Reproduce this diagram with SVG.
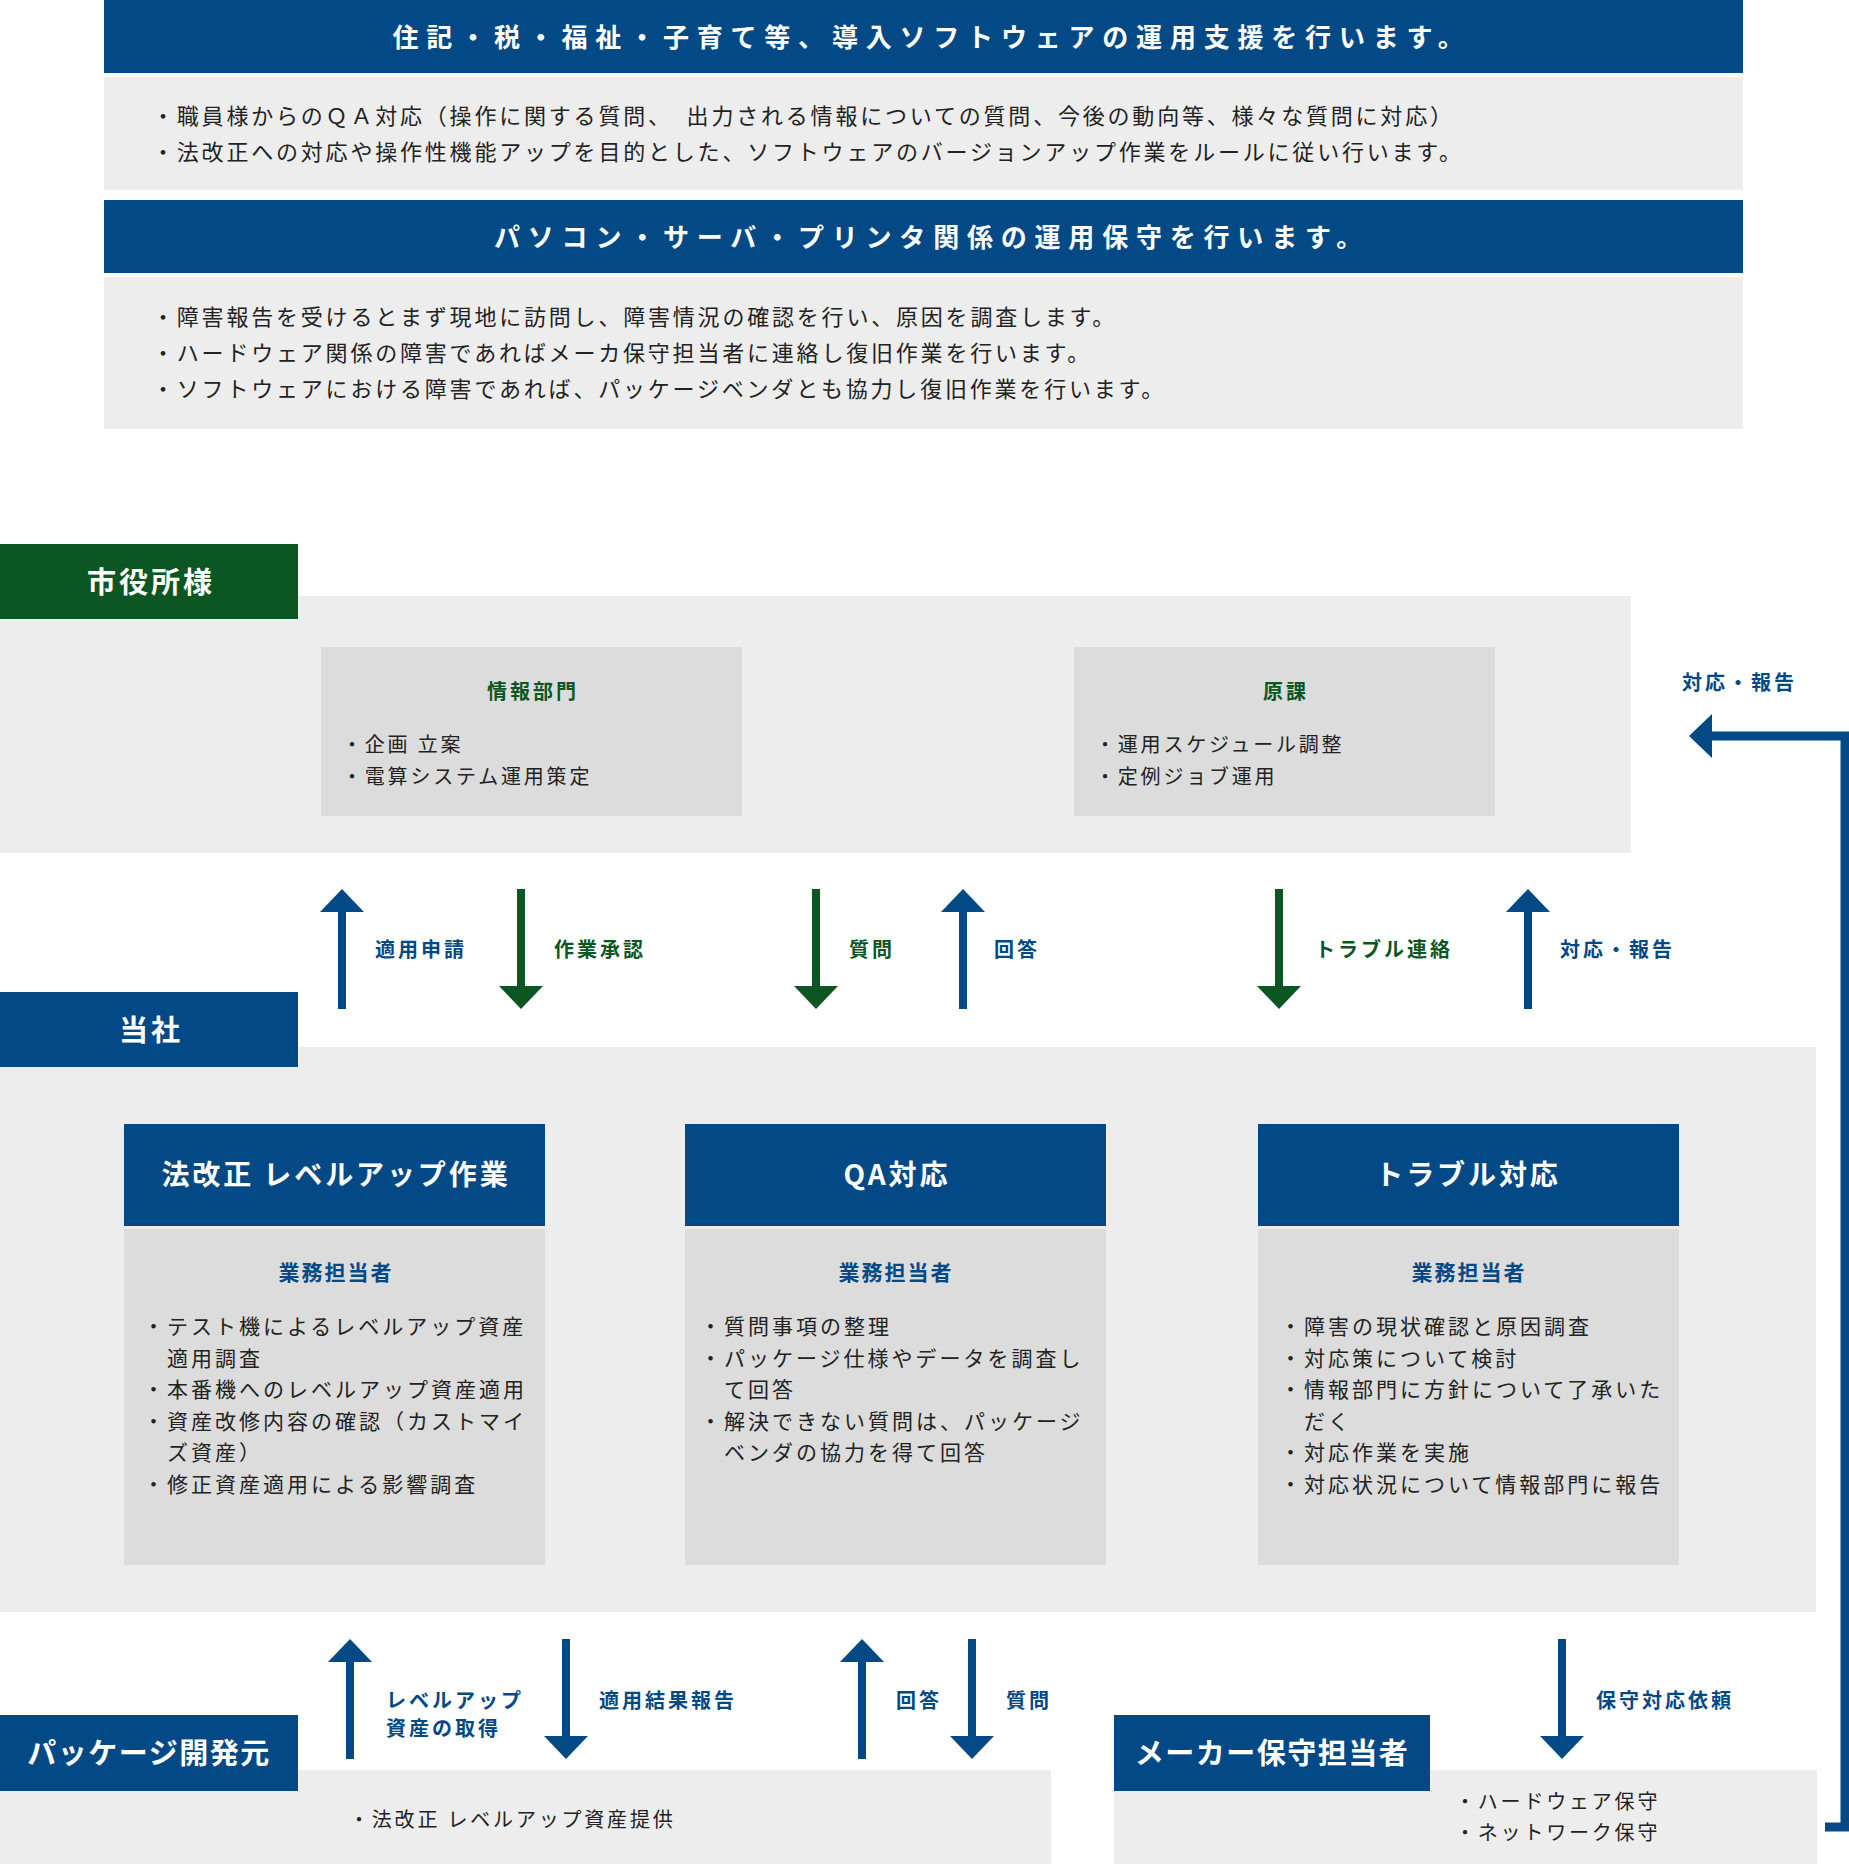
<svg xmlns="http://www.w3.org/2000/svg" width="1849" height="1864" viewBox="0 0 1849 1864">
<style>
text{font-family:"Noto Sans CJK JP","Noto Sans",sans-serif;dominant-baseline:central}
.blue{fill:#024986}
.green{fill:#0c5624}
.bg{fill:#ededed}
.inner{fill:#dcdcdc}
.hd{font-size:26px;font-weight:bold;fill:#fff;letter-spacing:7.8px;text-anchor:middle}
.body{font-size:22px;fill:#222;letter-spacing:2.8px}
.tag{font-size:29px;font-weight:bold;fill:#fff;letter-spacing:3px;text-anchor:middle}
.tag2{font-size:29px;font-weight:bold;fill:#fff;letter-spacing:1.5px;text-anchor:middle}
.ttl-g{font-size:20px;font-weight:bold;fill:#0c5624;letter-spacing:3px;text-anchor:middle}
.ttl-b{font-size:21px;font-weight:bold;fill:#024986;letter-spacing:2px;text-anchor:middle}
.it20{font-size:20px;fill:#222;letter-spacing:2.8px}
.it21{font-size:21px;fill:#222;letter-spacing:3px}
.colh{font-size:28px;font-weight:bold;fill:#fff;letter-spacing:2.9px;text-anchor:middle}
.lb-b{font-size:20px;font-weight:bold;fill:#024986;letter-spacing:3px}
.lb-g{font-size:20px;font-weight:bold;fill:#0c5624;letter-spacing:3px}
</style>
<rect width="1849" height="1864" fill="#fff"/>

<g id="support-software">
<rect class="blue" x="104" y="0" width="1639" height="73"/>
<text class="hd" x="932" y="35">住記・税・福祉・子育て等、導入ソフトウェアの運用支援を行います。</text>
<rect class="bg" x="104" y="77" width="1639" height="113"/>
<text class="body" x="152" y="114">・職員様からのＱＡ対応（操作に関する質問、　出力される情報についての質問、今後の動向等、様々な質問に対応）</text>
<text class="body" x="152" y="150">・法改正への対応や操作性機能アップを目的とした、ソフトウェアのバージョンアップ作業をルールに従い行います。</text>
</g>

<g id="support-hardware">
<rect class="blue" x="104" y="200" width="1639" height="73"/>
<text class="hd" x="932" y="235">パソコン・サーバ・プリンタ関係の運用保守を行います。</text>
<rect class="bg" x="104" y="277" width="1639" height="152"/>
<text class="body" x="152" y="315">・障害報告を受けるとまず現地に訪問し、障害情況の確認を行い、原因を調査します。</text>
<text class="body" x="152" y="351">・ハードウェア関係の障害であればメーカ保守担当者に連絡し復旧作業を行います。</text>
<text class="body" x="152" y="387">・ソフトウェアにおける障害であれば、パッケージベンダとも協力し復旧作業を行います。</text>
</g>

<g id="city">
<rect class="bg" x="0" y="596" width="1631" height="257"/>
<rect class="green" x="0" y="544" width="298" height="75"/>
<text class="tag" x="151" y="580">市役所様</text>
</g>

<g id="city-info">
<rect class="inner" x="321" y="647" width="421" height="169"/>
<text class="ttl-g" x="533" y="690">情報部門</text>
<text class="it20" x="342" y="743">・企画 立案</text>
<text class="it20" x="342" y="775">・電算システム運用策定</text>
</g>

<g id="city-dept">
<rect class="inner" x="1074" y="647" width="421" height="169"/>
<text class="ttl-g" x="1286" y="690">原課</text>
<text class="it20" x="1095" y="743">・運用スケジュール調整</text>
<text class="it20" x="1095" y="775">・定例ジョブ運用</text>
</g>

<g id="company">
<rect class="bg" x="0" y="1047" width="1816" height="565"/>
<rect class="blue" x="0" y="992" width="298" height="75"/>
<text class="tag" x="151" y="1028">当社</text>
</g>

<g id="col-levelup">
<rect class="blue" x="124" y="1124" width="421" height="102"/>
<text class="colh" x="336" y="1173">法改正 レベルアップ作業</text>
<rect class="inner" x="124" y="1229" width="421" height="336"/>
<text class="ttl-b" x="336" y="1271">業務担当者</text>
<text class="it21" x="143" y="1325">・テスト機によるレベルアップ資産</text>
<text class="it21" x="167" y="1356.5">適用調査</text>
<text class="it21" x="143" y="1388">・本番機へのレベルアップ資産適用</text>
<text class="it21" x="143" y="1419.5">・資産改修内容の確認（カストマイ</text>
<text class="it21" x="167" y="1451">ズ資産）</text>
<text class="it21" x="143" y="1482.5">・修正資産適用による影響調査</text>
</g>

<g id="col-qa">
<rect class="blue" x="685" y="1124" width="421" height="102"/>
<text class="colh" x="897" y="1173">QA対応</text>
<rect class="inner" x="685" y="1229" width="421" height="336"/>
<text class="ttl-b" x="896" y="1271">業務担当者</text>
<text class="it21" x="700" y="1325">・質問事項の整理</text>
<text class="it21" x="700" y="1356.5">・パッケージ仕様やデータを調査し</text>
<text class="it21" x="724" y="1388">て回答</text>
<text class="it21" x="700" y="1419.5">・解決できない質問は、パッケージ</text>
<text class="it21" x="724" y="1451">ベンダの協力を得て回答</text>
</g>

<g id="col-trouble">
<rect class="blue" x="1258" y="1124" width="421" height="102"/>
<text class="colh" x="1468" y="1173">トラブル対応</text>
<rect class="inner" x="1258" y="1229" width="421" height="336"/>
<text class="ttl-b" x="1469" y="1271">業務担当者</text>
<text class="it21" x="1280" y="1325">・障害の現状確認と原因調査</text>
<text class="it21" x="1280" y="1356.5">・対応策について検討</text>
<text class="it21" x="1280" y="1388">・情報部門に方針について了承いた</text>
<text class="it21" x="1304" y="1419.5">だく</text>
<text class="it21" x="1280" y="1451">・対応作業を実施</text>
<text class="it21" x="1280" y="1482.5">・対応状況について情報部門に報告</text>
</g>

<g id="package-vendor">
<rect class="bg" x="0" y="1770" width="1051" height="94"/>
<rect class="blue" x="0" y="1715" width="298" height="76"/>
<text class="tag2" x="149" y="1751">パッケージ開発元</text>
<text class="it20" x="349" y="1818">・法改正 レベルアップ資産提供</text>
</g>

<g id="maker">
<rect class="bg" x="1114" y="1770" width="703" height="94"/>
<rect class="blue" x="1114" y="1715" width="316" height="76"/>
<text class="tag2" x="1272" y="1751">メーカー保守担当者</text>
<text class="it20" x="1455" y="1800">・ハードウェア保守</text>
<text class="it20" x="1455" y="1831">・ネットワーク保守</text>
</g>

<g id="connectors">
<g class="blue">
<rect x="338" y="910" width="8" height="99"/><polygon points="342,889 320,912 364,912"/>
<rect x="959" y="910" width="8" height="99"/><polygon points="963,889 941,912 985,912"/>
<rect x="1524" y="910" width="8" height="99"/><polygon points="1528,889 1506,912 1550,912"/>
</g>
<g class="green">
<rect x="517" y="889" width="8" height="99"/><polygon points="521,1009 499,986 543,986"/>
<rect x="812" y="889" width="8" height="99"/><polygon points="816,1009 794,986 838,986"/>
<rect x="1275" y="889" width="8" height="99"/><polygon points="1279,1009 1257,986 1301,986"/>
</g>
<text class="lb-b" x="375" y="948">適用申請</text>
<text class="lb-g" x="554" y="948">作業承認</text>
<text class="lb-g" x="849" y="948">質問</text>
<text class="lb-b" x="994" y="948">回答</text>
<text class="lb-g" x="1315" y="948">トラブル連絡</text>
<text class="lb-b" x="1560" y="948">対応・報告</text>
<g class="blue">
<rect x="346" y="1660" width="8" height="99"/><polygon points="350,1639 328,1662 372,1662"/>
<rect x="562" y="1639" width="8" height="99"/><polygon points="566,1759 544,1736 588,1736"/>
<rect x="858" y="1660" width="8" height="99"/><polygon points="862,1639 840,1662 884,1662"/>
<rect x="968" y="1639" width="8" height="99"/><polygon points="972,1759 950,1736 994,1736"/>
<rect x="1558" y="1639" width="8" height="99"/><polygon points="1562,1759 1540,1736 1584,1736"/>
</g>
<text class="lb-b" x="386" y="1699">レベルアップ</text>
<text class="lb-b" x="386" y="1727">資産の取得</text>
<text class="lb-b" x="599" y="1699">適用結果報告</text>
<text class="lb-b" x="896" y="1699">回答</text>
<text class="lb-b" x="1006" y="1699">質問</text>
<text class="lb-b" x="1596" y="1699">保守対応依頼</text>
<path d="M1825,1827 H1845 V736 H1710" fill="none" stroke="#024986" stroke-width="9"/>
<polygon class="blue" points="1689,736 1712,714 1712,758"/>
<text class="lb-b" x="1682" y="681">対応・報告</text>
</g>
</svg>
